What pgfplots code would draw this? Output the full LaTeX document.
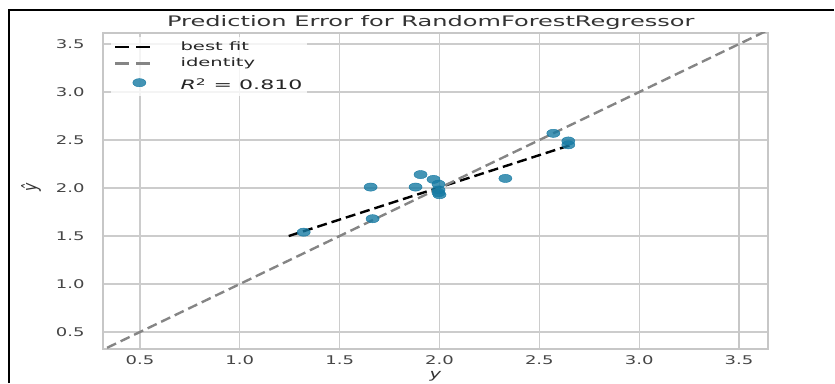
\documentclass[border=0pt]{standalone}
\usepackage{pgfplots}
\pgfplotsset{compat=1.18}
\usepackage{fontspec}
\setmainfont{DejaVu Sans}
\newcommand\sx[1]{\scalebox{1.5}[1]{#1}}
\newcommand\slg[1]{\scalebox{1.7}[1]{#1}}
\definecolor{ptblue}{RGB}{22,122,163}
\definecolor{tickgray}{RGB}{70,70,70}
\pgfplotsset{
  lineleg/.style={legend image code/.code={\draw[##1, dash pattern=on 14pt off 7pt] (0pt,0pt) -- (42pt,0pt);}},
  markleg/.style={legend image code/.code={\path[draw=none,fill=none] (0pt,0pt) -- (42pt,0pt); \draw[##1] plot coordinates {(24pt,0pt)};}},
}
\begin{document}
\begin{tikzpicture}
\useasboundingbox (0,0) rectangle (835pt,383pt);
\draw[line width=2pt] (8pt,372.5pt) -- (834pt,372.5pt);
\draw[line width=2pt] (9pt,0pt) -- (9pt,373.5pt);
\begin{axis}[
  at={(103pt,34pt)}, anchor=south west,
  scale only axis, width=665pt, height=316pt,
  xmin=0.315, xmax=3.645, ymin=0.323, ymax=3.615,
  xtick={0.5,1.0,1.5,2.0,2.5,3.0},
  xticklabels={\sx{0.5},\sx{1.0},\sx{1.5},\sx{2.0},\sx{2.5},\sx{3.0}},
  extra x ticks={3.5}, extra x tick labels={\sx{3.5}},
  extra x tick style={grid style={draw=black!22, line width=2.8pt}},
  ytick={0.5,1.0,1.5,2.0,2.5,3.0,3.5},
  yticklabels={\sx{0.5},\sx{1.0},\sx{1.5},\sx{2.0},\sx{2.5},\sx{3.0},\sx{3.5}},
  major tick length=0pt,
  grid=major,
  grid style={draw=black!20, line width=1.3pt},
  axis line style={draw=black!22, line width=1.5pt},
  tick label style={font=\fontsize{12}{14}\selectfont, text=tickgray},
  xticklabel style={yshift=-3pt},
  yticklabel style={xshift=-15pt},
  title={\scalebox{1.66}[1]{Prediction Error for RandomForestRegressor}},
  every axis title/.style={at={(axis description cs:0.493,1)}, anchor=base, yshift=6pt, font=\fontsize{14.5}{17}\selectfont, text=black!80},
  xlabel={\sx{\itshape y}},
  ylabel={\itshape ŷ},
  every axis x label/.style={at={(axis description cs:0.5,0)}, anchor=center, yshift=-27pt, font=\fontsize{13}{15}\selectfont, text=black!80},
  every axis y label/.style={at={(axis description cs:0,0.51)}, anchor=center, xshift=-72pt, rotate=90, yscale=1.4, font=\fontsize{14}{17}\selectfont, text=black!80},
  legend style={at={(axis description cs:0.012,0.988)}, anchor=north west, draw=none, fill=white, fill opacity=0.8, text opacity=1, row sep=2pt, column sep=20pt, inner sep=3pt, font=\fontsize{11.5}{13}\selectfont, text=black!85},
  legend cell align=left,
]
\addplot[black, line width=2.4pt, dash pattern=on 10pt off 5pt, lineleg]
  coordinates {(1.245,1.50) (2.66,2.45)};
\addlegendentry{\slg{best fit}}
\addplot[black!48, line width=2.4pt, dash pattern=on 10pt off 5pt, lineleg]
  coordinates {(0.2,0.2) (3.8,3.8)};
\addlegendentry{\slg{identity}}
\addplot[only marks, mark=*, mark size=4.1pt, color=ptblue,
  mark options={xscale=1.6, fill=ptblue, draw=none, fill opacity=0.8}, markleg]
  coordinates {
  (1.32,1.54) (1.655,2.01) (1.665,1.68) (1.88,2.01) (1.905,2.14)
  (1.97,2.09) (1.995,2.04) (1.995,1.98) (1.995,1.95) (2.0,1.93)
  (2.33,2.10) (2.57,2.57) (2.645,2.49) (2.645,2.45)
  };
\addlegendentry{\raisebox{0pt}[15pt][5pt]{\fontsize{13}{15}\selectfont\slg{\textit{R}\textsuperscript{2} = 0.810}}}
\end{axis}
\end{tikzpicture}
\end{document}
